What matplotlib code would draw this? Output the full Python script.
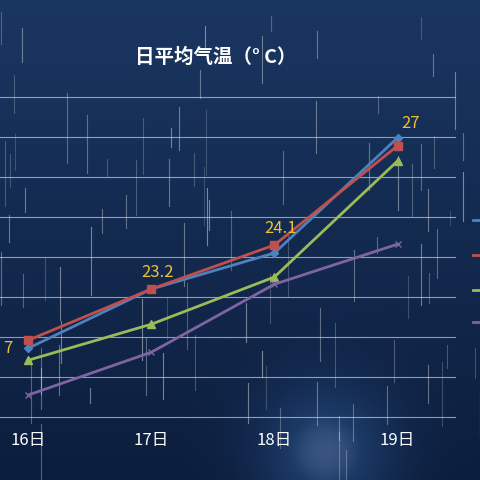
import matplotlib
matplotlib.use("Agg")
import matplotlib.pyplot as plt
import numpy as np

plt.rcParams["font.family"] = ["Noto Sans CJK SC", "DejaVu Sans"]

days = [16, 17, 18, 19]
day_labels = ["16日", "17日", "18日", "19日"]
blue = [1.72, 3.2, 4.1, 6.98]
red = [1.92, 3.2, 4.3, 6.78]
green = [1.42, 2.32, 3.5, 6.4]
purple = [0.55, 1.62, 3.32, 4.32]
label_text = ["7", "23.2", "24.1", "27"]
label_vals = [1.92, 3.2, 4.3, 6.98]

fig = plt.figure(figsize=(4.8, 4.8), dpi=100)
bg = fig.add_axes([0, 0, 1, 1])
bg.set_xlim(0, 1)
bg.set_ylim(0, 1)
bg.axis("off")
yy, xx = np.mgrid[0:1:200j, 0:1:200j]
grad = 0.25 + 0.35 * yy + 0.5 * np.exp(-((xx - 0.68) ** 2 / 0.02 + (yy - 0.05) ** 2 / 0.02))
cmap = matplotlib.colors.LinearSegmentedColormap.from_list("bg", ["#0a1a38", "#1c3a66", "#8a9cc8"])
bg.imshow(grad, cmap=cmap, extent=(0, 1, 0, 1), origin="lower", aspect="auto", vmin=0.2, vmax=1.1)
rng = np.random.default_rng(3)
for _ in range(90):
    x = rng.uniform(0, 1)
    y = rng.uniform(0.05, 1)
    length = rng.uniform(0.03, 0.15)
    bg.plot([x, x], [y, y - length], color="white", alpha=rng.uniform(0.15, 0.45), lw=0.8)

ax = fig.add_axes([0, 0, 1, 1])
ax.patch.set_alpha(0)
ax.set_xlim(15.77, 19.67)
ax.set_ylim(-1.575, 10.425)
for g in range(0, 9):
    ax.plot([15.77, 19.47], [g, g], color="#c8d0e0", lw=0.8, alpha=0.7)
ax.plot(days, blue, color="#4f81bd", marker="D", ms=4, lw=2)
ax.plot(days, red, color="#c0504d", marker="s", ms=6, lw=2)
ax.plot(days, green, color="#9bbb59", marker="^", ms=6, lw=2)
ax.plot(days, purple, color="#8064a2", marker="x", ms=5, lw=2)
for d, t, v in zip(days, label_text, label_vals):
    if d == 16:
        ax.text(d - 0.13, v - 0.2, t, color="#f0c030", fontsize=12, ha="right", va="center")
    elif d == 19:
        ax.text(d + 0.03, v + 0.15, t, color="#f0c030", fontsize=12, ha="left", va="bottom")
    else:
        ax.text(d + 0.05, v + 0.2, t, color="#f0c030", fontsize=12, ha="center", va="bottom")
for d, t in zip(days, day_labels):
    ax.text(d, -0.6, t, color="white", fontsize=12, ha="center", va="center")
for c, y in zip(["#4f81bd", "#c0504d", "#9bbb59", "#8064a2"], [0.542, 0.469, 0.396, 0.329]):
    fig.add_artist(plt.Line2D([0.985, 1.0], [y, y], color=c, lw=2))
ax.axis("off")
fig.text(0.45, 0.88, "日平均气温（° C）", color="white", fontsize=14, fontweight="bold", ha="center", va="center")
fig.savefig("out.png", dpi=100)
